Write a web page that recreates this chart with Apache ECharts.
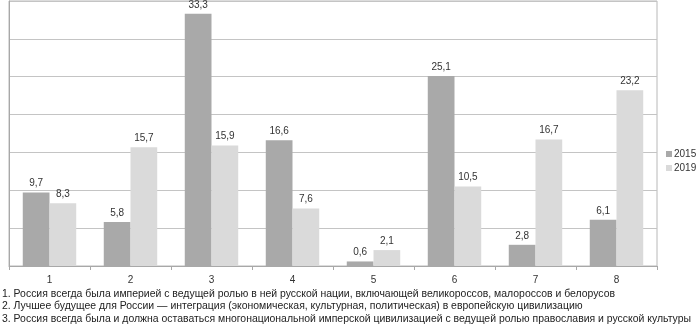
<!DOCTYPE html>
<html>
<head>
<meta charset="utf-8">
<script src="https://cdn.jsdelivr.net/npm/echarts@6/dist/echarts.min.js"></script>
<style>
html, body { margin: 0; padding: 0; background: #fff; }
#chart { width: 696px; height: 324px; }
</style>
</head>
<body>
<div id="chart"></div>
<script>
// категории и значения
var categories = ['1', '2', '3', '4', '5', '6', '7', '8'];
var values2015 = [9.7, 5.8, 33.3, 16.6, 0.6, 25.1, 2.8, 6.1];
var values2019 = [8.3, 15.7, 15.9, 7.6, 2.1, 10.5, 16.7, 23.2];
var seriesNames = ['2015', '2019'];
var notes = [
  '1. Россия всегда была империей с ведущей ролью в ней русской нации, включающей великороссов, малороссов и белорусов',
  '2. Лучшее будущее для России — интеграция (экономическая, культурная, политическая) в европейскую цивилизацию',
  '3. Россия всегда была и должна оставаться многонациональной имперской цивилизацией с ведущей ролью православия и русской культуры'
];

var myChart = echarts.init(document.getElementById('chart'));

function fmt(p) {
  return String(p.value).replace('.', ',');
}

var narrow = 'Liberation Sans Narrow, Liberation Sans, Arial, sans-serif';
var sans = 'Liberation Sans, Arial, sans-serif';

myChart.setOption({
  animation: false,
  textStyle: { fontFamily: sans },
  grid: {
    left: 9, right: 39, top: 1, bottom: 58,
    show: true, borderColor: '#b8b8b8', borderWidth: 1
  },
  legend: {
    data: seriesNames,
    orient: 'vertical',
    left: 661, top: 144,
    itemWidth: 6, itemHeight: 6, itemGap: 4,
    icon: 'rect',
    textStyle: { fontSize: 10, color: '#333', padding: [0, 0, 0, -3] }
  },
  xAxis: {
    type: 'category',
    data: categories,
    axisLine: { lineStyle: { color: '#a8a8a8' } },
    axisTick: { show: true, length: 4, lineStyle: { color: '#a8a8a8' } },
    axisLabel: { fontSize: 10, color: '#333', margin: 9 }
  },
  yAxis: {
    type: 'value',
    min: 0, max: 35, interval: 5,
    axisLine: { show: true, lineStyle: { color: '#a8a8a8' } },
    axisTick: { show: false },
    axisLabel: { show: false },
    splitLine: { lineStyle: { color: '#c4c4c4' } }
  },
  series: [
    {
      name: seriesNames[0],
      type: 'bar',
      data: values2015,
      barGap: '0%',
      barCategoryGap: '34%',
      itemStyle: { color: '#a9a9a9' },
      label: { show: true, position: 'top', formatter: fmt, fontSize: 10, color: '#333', distance: 4 }
    },
    {
      name: seriesNames[1],
      type: 'bar',
      data: values2019,
      itemStyle: { color: '#dadada' },
      label: { show: true, position: 'top', formatter: fmt, fontSize: 10, color: '#333', distance: 4 }
    }
  ],
  graphic: notes.map(function (t, i) {
    return {
      type: 'text',
      left: 2,
      top: 289 + i * 12.6,
      style: { text: t, fill: '#222', font: '10.45px ' + narrow }
    };
  })
});
</script>
</body>
</html>
